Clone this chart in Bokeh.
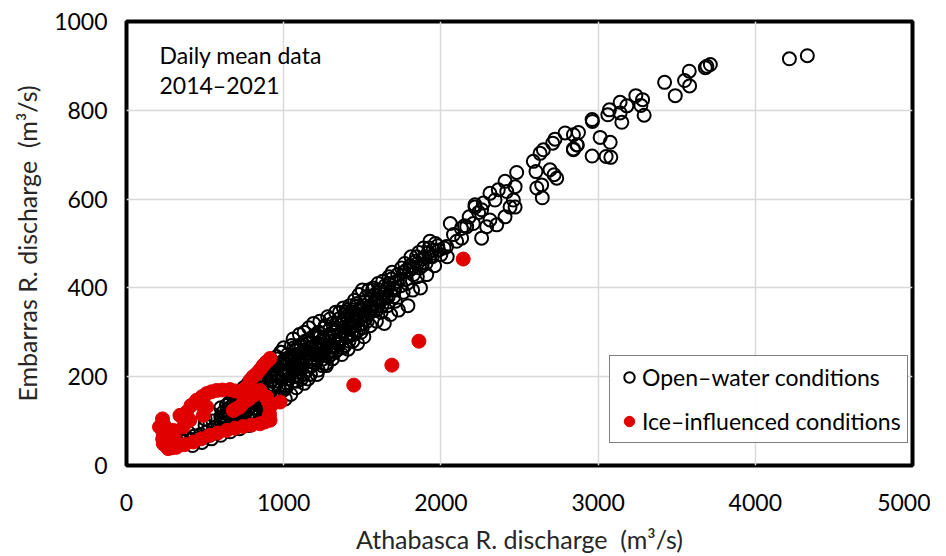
from bokeh.plotting import figure
from bokeh.models import Range1d, FixedTicker, Label, Legend, LegendItem
from bokeh.embed import file_html
from bokeh.resources import INLINE

# ---- data ----
open_x = [250, 270, 290, 310, 330, 350, 370, 390, 410, 430, 450, 470, 490, 510, 530, 550, 570, 590, 610, 630,
          650, 670, 690, 710, 730, 750, 770, 790, 810, 830, 850, 870, 890, 910, 930, 950,
          450, 500, 550, 600, 650, 700, 750, 800, 850, 900, 950, 600, 700, 800, 900,
          620, 640, 660, 680, 720, 740, 760, 780, 820, 840, 860, 880, 920, 940, 960, 970, 990,
          960, 980, 1000, 1000, 1000, 1000, 1010, 1020, 1030, 1040, 1050, 1060, 1060, 1070, 1080, 1080, 1090,
          1100, 1100, 1100, 1110, 1120, 1130, 1130, 1140, 1150, 1150, 1160, 1170, 1170, 1180, 1190, 1190,
          1200, 1200, 1210, 1220, 1220, 1230, 1240, 1250, 1250, 1260, 1270, 1280, 1280, 1290, 1300, 1310,
          1310, 1320, 1330, 1340, 1340, 1350, 1360, 1370, 1380, 1380, 1390, 1400, 1400, 1410, 1420, 1430,
          1440, 1450, 1450, 1460, 1470, 1480, 1480, 1490, 1500, 1500, 1510, 1520, 1530, 1540, 1550, 1560,
          1570, 1575, 1590, 1600, 1610, 1620, 1630, 1640, 1650, 1660, 1670, 1680, 1690, 1700, 1710, 1720,
          1730, 1750, 1760, 1770, 1780, 1790, 1800, 1810, 1820, 1840, 1850, 1860, 1870, 1880, 1900, 1910,
          1930, 1930, 1950, 1960, 1980, 2000, 2020, 2036, 2040,
          1010, 1030, 1050, 1070, 1090, 1110, 1130, 1160, 1180, 1210, 1230, 1260, 1290, 1320, 1350, 1370,
          1390, 1420, 1440, 1460, 1470, 1520, 1550, 1580, 1600, 1640, 1660, 1700, 1740, 1780, 1820, 1850,
          1890, 1920,
          1005, 1015, 1025, 1035, 1045, 1055, 1065, 1075, 1085, 1095, 1105, 1115, 1125, 1135, 1145, 1155,
          1165, 1175, 1185, 1195, 1205, 1215, 1225, 1235, 1245, 1255, 1265, 1275, 1285, 1295, 1305, 1315,
          1325, 1335, 1345, 1355, 1365, 1375, 1385, 1395, 1405, 1415, 1425, 1435, 1445, 1455, 1465, 1475,
          1485, 1495,
          605, 615, 625, 635, 645, 655, 665, 675, 685, 695, 705, 715, 725, 735, 745, 755, 765, 775, 785, 795,
          805, 815, 825, 835, 845, 855, 865, 875, 885, 895, 905, 915, 925, 935, 945, 955, 965, 975, 985, 995,
          1505, 1525, 1545, 1565, 1585, 1605, 1625, 1645, 1665, 1685, 1705, 1725, 1745, 1765, 1785, 1805,
          1825, 1845, 1865, 1885, 1905, 1925, 1945, 1965, 1985,
          420, 480, 540, 600, 660, 720, 780, 840, 900, 500, 550, 600, 650, 700, 750, 800, 850, 880, 820, 560,
          620, 680, 740, 380, 340, 300,
          655, 675, 695, 715, 735, 755, 775, 795, 815, 835, 855, 875, 895, 915, 935, 955, 975, 995, 1012, 1032,
          1052, 1072, 1092, 1112, 1132, 1152, 1172, 1192, 1212, 1232, 1252, 1272, 1292, 1312, 1332, 1352,
          1372, 1392, 1412, 1432, 1452, 1472, 1492, 1512, 1532, 1552, 1572, 1592, 1612, 1632, 1652, 1672,
          2060, 2080, 2100, 2130, 2132, 2150, 2164, 2180, 2206, 2217, 2217, 2240, 2259, 2259, 2270, 2291,
          2312, 2312, 2344, 2355, 2365, 2408, 2408, 2419, 2440, 2461, 2472, 2472, 2482, 2588, 2605, 2610,
          2631, 2641, 2645, 2652, 2694, 2711, 2720, 2726, 2737, 2790, 2843, 2843, 2843, 2865, 2868, 2875,
          2962, 2962, 2964, 3013, 3051, 3062, 3072, 3077, 3081, 3140, 3140, 3151, 3183, 3240, 3272, 3283,
          3293, 3423, 3491, 3550, 3580, 3582, 3682, 3692, 3714, 4217, 4331]
open_y = [45, 52, 48, 55, 50, 58, 54, 62, 58, 66, 60, 70, 64, 75, 68, 80, 74, 86, 80, 92,
          86, 98, 92, 105, 100, 112, 106, 120, 115, 128, 122, 136, 130, 145, 140, 155,
          95, 105, 115, 130, 140, 150, 165, 180, 195, 210, 225, 100, 120, 150, 175,
          110, 125, 115, 135, 140, 130, 150, 140, 165, 150, 175, 160, 190, 175, 200, 180, 215,
          240, 255, 265, 230, 200, 170, 150, 185, 215, 245, 270, 285, 190, 230, 260, 175, 210,
          295, 245, 200, 270, 225, 300, 185, 255, 280, 215, 310, 240, 205, 265, 320, 290,
          230, 250, 275, 300, 215, 325, 260, 285, 240, 310, 230, 335, 270, 295, 250, 320,
          240, 280, 345, 305, 260, 330, 285, 250, 355, 310, 270, 335, 295, 262, 360, 320,
          280, 372, 345, 300, 275, 385, 330, 355, 395, 310, 290, 370, 340, 395, 315, 380,
          400, 350, 325, 410, 375, 345, 415, 320, 395, 360, 425, 340, 435, 400, 370, 415,
          350, 445, 390, 455, 420, 360, 440, 470, 395, 460, 425, 480, 400, 450, 470, 430,
          505, 470, 485, 450, 495, 475, 490, 493, 470,
          240, 195, 225, 200, 250, 235, 260, 250, 225, 290, 250, 270, 255, 300, 295, 320,
          340, 310, 350, 330, 360, 330, 360, 385, 360, 390, 400, 380, 420, 440, 445, 455,
          490, 480,
          215, 175, 250, 205, 160, 235, 265, 215, 190, 270, 225, 255, 205, 280, 240, 195,
          265, 225, 290, 250, 270, 240, 300, 280, 225, 255, 315, 290, 245, 330, 270, 300,
          255, 320, 280, 345, 300, 265, 330, 290, 350, 280, 310, 340, 295, 325, 365, 305,
          350, 320,
          95, 120, 105, 135, 115, 140, 100, 125, 150, 110, 135, 160, 120, 145, 175, 130, 160, 185, 145, 170,
          190, 130, 175, 200, 155, 185, 210, 145, 195, 220, 165, 205, 230, 180, 215, 245, 190, 230, 255, 205,
          340, 380, 350, 395, 365, 390, 360, 405, 380, 420, 395, 430, 405, 435, 410, 450,
          430, 470, 445, 465, 455, 490, 470, 500, 485,
          45, 52, 60, 68, 76, 83, 90, 97, 105, 90, 100, 110, 118, 112, 125, 135, 140, 120, 115, 85,
          95, 100, 105, 60, 62, 55,
          130, 110, 140, 125, 155, 120, 170, 135, 180, 160, 140, 190, 165, 200, 155, 210, 170, 235, 180, 210,
          240, 250, 230, 195, 245, 275, 235, 255, 205, 290, 265, 225, 280, 260, 310, 275,
          300, 345, 290, 330, 315, 340, 300, 360, 325, 345, 365, 350, 395, 375, 380, 410,
          545, 520, 505, 534, 512, 540, 538, 560, 545, 582, 587, 570, 576, 512, 591, 538,
          553, 613, 598, 542, 621, 560, 640, 617, 582, 598, 582, 628, 660, 685, 662, 625,
          703, 632, 603, 711, 666, 726, 655, 735, 647, 749, 713, 745, 711, 722, 722, 750,
          779, 697, 775, 739, 696, 790, 801, 728, 694, 818, 794, 773, 810, 833, 811, 824,
          789, 863, 833, 867, 888, 855, 896, 899, 903, 916, 923]

ice_x = [229, 210, 234, 265, 290, 318, 370, 425, 475, 529, 580, 637, 690, 743, 795, 849, 880, 913,
         910, 913, 900, 892, 849, 807, 764, 722, 680, 700, 740, 786, 828, 871, 913, 760, 805, 850, 890,
         977, 340, 382, 410, 446, 480, 510, 540, 573, 610, 658, 690, 722, 750, 489, 510, 467, 403, 361,
         297, 255, 234, 240, 245, 250, 230, 280, 300, 780, 820, 1446, 1688, 1860, 2142]
ice_y = [105, 87, 49, 38, 40, 41, 47, 53, 60, 68, 73, 79, 84, 88, 91, 94, 98, 102,
         115, 132, 145, 154, 169, 162, 147, 132, 124, 128, 140, 192, 207, 226, 241, 175, 200, 216, 233,
         143, 113, 120, 135, 147, 155, 162, 166, 169, 170, 171, 168, 165, 160, 113, 132, 139, 102, 87,
         79, 64, 71, 90, 60, 80, 60, 55, 65, 150, 160, 181, 226, 280, 465]

x_ticks = [0, 1000, 2000, 3000, 4000, 5000]
y_ticks = [0, 200, 400, 600, 800, 1000]

FONT = "Lato"

p = figure(width=930, height=556, output_backend="svg", toolbar_location=None,
           x_range=Range1d(0, 5000), y_range=Range1d(0, 1000),
           min_border_left=126, min_border_right=18, min_border_top=21, min_border_bottom=91)

p.outline_line_color = "black"
p.outline_line_width = 4
p.background_fill_color = "white"
p.border_fill_color = "white"

for ax in (p.xaxis[0], p.yaxis[0]):
    ax.axis_line_color = None
    ax.major_tick_line_color = None
    ax.minor_tick_line_color = None
    ax.major_label_text_font = FONT
    ax.major_label_text_font_size = "23px"
    ax.major_label_text_color = "black"
    ax.axis_label_text_font = FONT
    ax.axis_label_text_font_size = "25px"
    ax.axis_label_text_font_style = "normal"
    ax.axis_label_text_color = "#262626"

p.xaxis.ticker = FixedTicker(ticks=x_ticks)
p.yaxis.ticker = FixedTicker(ticks=y_ticks)
p.xaxis.major_label_standoff = 22
p.yaxis.major_label_standoff = 13
p.xaxis.axis_label = "Athabasca R. discharge \u00a0(m\u00b3/s)"
p.yaxis.axis_label = "Embarras R. discharge \u00a0(m\u00b3/s)"
p.xaxis.axis_label_standoff = 10
p.yaxis.axis_label_standoff = 9

p.xgrid.grid_line_color = "#d9d9d9"
p.ygrid.grid_line_color = "#d9d9d9"
p.xgrid.grid_line_width = 1.5
p.ygrid.grid_line_width = 1.5

r_open = p.scatter(open_x, open_y, marker="circle", size=13, fill_color=None,
                   line_color="black", line_width=2)
r_ice = p.scatter(ice_x, ice_y, marker="circle", size=14, fill_color="#e00000",
                  line_color="#e00000", line_width=1)

p.add_layout(Label(x=210, y=925, text="Daily mean data", text_font=FONT,
                   text_font_size="23px", text_baseline="middle", text_color="black"))
p.add_layout(Label(x=210, y=858, text="2014\u20132021", text_font=FONT,
                   text_font_size="23px", text_baseline="middle", text_color="black"))

legend = Legend(items=[LegendItem(label="Open\u2013water conditions", renderers=[r_open]),
                       LegendItem(label="Ice\u2013influenced conditions", renderers=[r_ice])],
                location=(483, 22))
legend.label_text_font = FONT
legend.label_text_font_size = "23px"
legend.label_text_color = "black"
legend.border_line_color = "black"
legend.border_line_width = 1
legend.padding = 6
legend.spacing = 14
legend.margin = 0
legend.glyph_width = 26
legend.glyph_height = 30
legend.label_standoff = 0
p.add_layout(legend, "center")

open("out.html", "w").write(file_html(p, INLINE))
